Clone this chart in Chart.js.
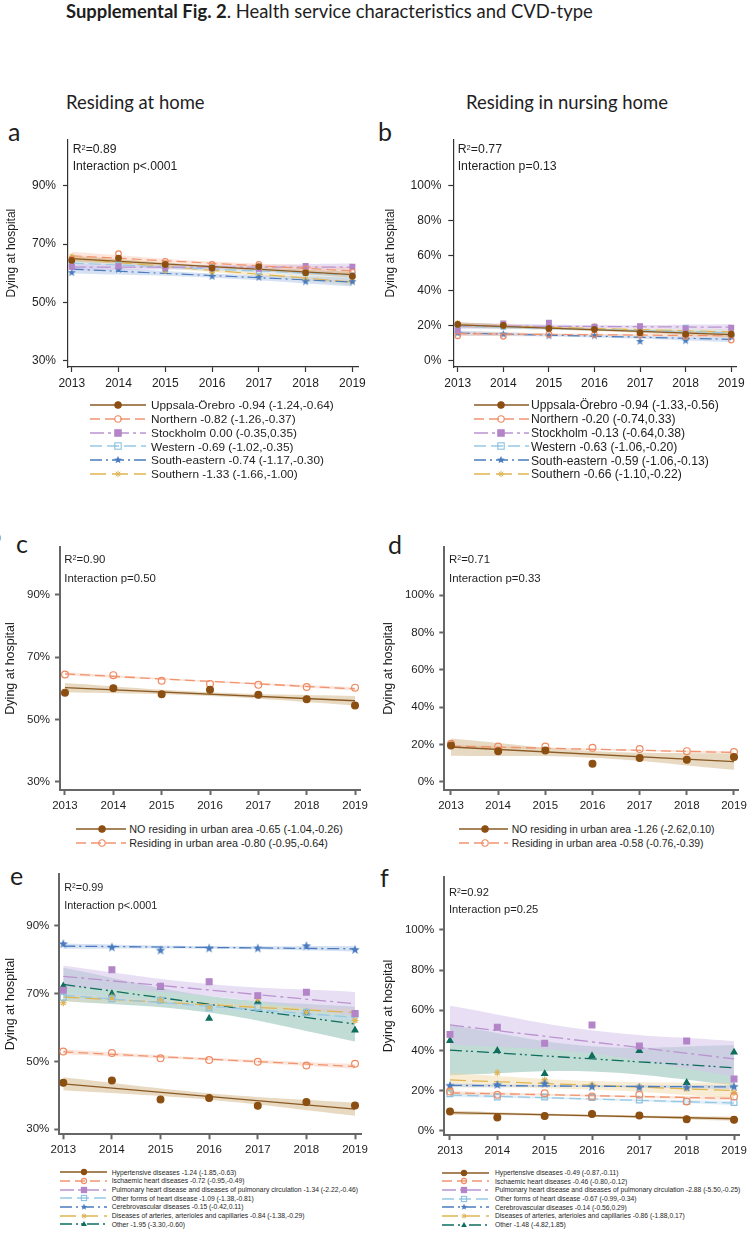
<!DOCTYPE html>
<html>
<head>
<meta charset="utf-8">
<script src="https://cdn.jsdelivr.net/npm/chart.js@4.4.1/dist/chart.umd.min.js"></script>
<style>
  body { margin: 0; width: 750px; height: 1237px; position: relative; background: #fff; overflow: hidden; }
  .abs { position: absolute; white-space: nowrap; }
  canvas { position: absolute; }
</style>
</head>
<body>
<script>
// ---- data ----
const YEARS = [2013, 2014, 2015, 2016, 2017, 2018, 2019];
const FIT_X = [2013, 2019];
const CI_X = [2013, 2016, 2019];

const A_LABELS = ['Uppsala-Örebro -0.94 (-1.24,-0.64)', 'Northern -0.82 (-1.26,-0.37)', 'Stockholm 0.00 (-0.35,0.35)',
  'Western -0.69 (-1.02,-0.35)', 'South-eastern -0.74 (-1.17,-0.30)', 'Southern -1.33 (-1.66,-1.00)'];
const A_OBS = [
  [64.4, 65.2, 63.0, 61.8, 62.3, 60.2, 59.0],
  [64.8, 66.7, 64.1, 63.0, 63.0, 61.5, 60.4],
  [62.2, 62.4, 61.9, 61.6, 61.5, 62.5, 62.2],
  [63.2, 62.9, 62.6, 62.1, 60.6, 60.0, 59.3],
  [60.2, 61.3, 61.5, 58.9, 58.6, 57.1, 57.1],
  [65.8, 63.0, 60.8, 60.2, 58.9, 58.0, 57.4],
];
const A_FIT = [[65.0, 59.5], [66.0, 60.8], [62.1, 62.1], [63.5, 59.4], [61.4, 57.0], [65.0, 57.0]];
const A_LO = [[64.0, 61.8, 58.5], [64.6, 62.8, 59.5], [60.9, 61.4, 60.9], [62.3, 60.9, 58.2], [59.9, 58.5, 55.5], [63.8, 60.4, 55.8]];
const A_HI = [[66.0, 62.7, 60.5], [67.4, 64.0, 62.1], [63.3, 62.8, 63.3], [64.7, 62.0, 60.6], [62.9, 59.9, 58.5], [66.2, 61.6, 58.2]];

const B_LABELS = ['Uppsala-Örebro -0.94 (-1.33,-0.56)', 'Northern -0.20 (-0.74,0.33)', 'Stockholm -0.13 (-0.64,0.38)',
  'Western -0.63 (-1.06,-0.20)', 'South-eastern -0.59 (-1.06,-0.13)', 'Southern -0.66 (-1.10,-0.22)'];
const B_OBS = [
  [20.8, 20.2, 18.5, 18.0, 16.1, 15.2, 15.2],
  [14.3, 14.0, 15.2, 15.0, 14.8, 14.0, 11.9],
  [17.2, 21.3, 21.7, 19.5, 19.8, 18.5, 18.9],
  [20.0, 19.5, 19.0, 19.0, 17.5, 18.9, 15.0],
  [15.9, 15.2, 14.3, 14.3, 11.1, 11.5, 13.7],
  [21.7, 19.5, 19.3, 20.0, 18.0, 15.5, 17.0],
];
const B_FIT = [[20.5, 15.0], [15.5, 14.3], [20.0, 19.2], [19.8, 16.0], [15.9, 12.3], [20.5, 16.5]];
const B_LO = [[19.0, 17.0, 13.5], [14.2, 14.3, 13.0], [18.3, 18.8, 17.5], [18.3, 17.2, 14.5], [14.4, 13.4, 10.8], [19.0, 17.8, 15.0]];
const B_HI = [[22.0, 18.5, 16.5], [16.8, 15.5, 15.6], [21.7, 20.4, 20.9], [21.3, 18.6, 17.5], [17.4, 14.8, 13.8], [22.0, 19.2, 18.0]];

const C_LABELS = ['NO residing in urban area -0.65 (-1.04,-0.26)', 'Residing in urban area -0.80 (-0.95,-0.64)'];
const C_OBS = [[58.6, 60.0, 58.1, 59.5, 57.9, 56.5, 54.5], [64.4, 64.2, 62.4, 61.4, 61.1, 60.4, 60.2]];
const C_FIT = [[60.2, 56.0], [64.6, 59.8]];
const C_LO = [[58.7, 57.5, 54.5], [64.1, 61.95, 59.3]];
const C_HI = [[61.7, 58.7, 57.5], [65.1, 62.45, 60.3]];

const D_LABELS = ['NO residing in urban area -1.26 (-2.62,0.10)', 'Residing in urban area -0.58 (-0.76,-0.39)'];
const D_OBS = [[19.5, 16.5, 16.9, 9.8, 12.8, 11.9, 13.3], [20.4, 19.0, 19.0, 18.3, 17.6, 16.5, 16.0]];
const D_FIT = [[18.7, 10.9], [19.2, 15.8]];
const D_LO = [[14.0, 13.0, 6.5], [18.5, 17.1, 15.1]];
const D_HI = [[23.2, 16.6, 15.2], [19.9, 17.9, 16.5]];

const E_LABELS = ['Hypertensive diseases -1.24 (-1.85,-0.63)', 'Ischaemic heart diseases -0.72 (-0.95,-0.49)',
  'Pulmonary heart disease and diseases of pulmonary circulation -1.34 (-2.22,-0.46)',
  'Other forms of heart disease -1.09 (-1.38,-0.81)', 'Cerebrovascular diseases -0.15 (-0.42,0.11)',
  'Diseases of arteries, arterioles and capillaries -0.84 (-1.38,-0.29)', 'Other -1.95 (-3.30,-0.60)'];
const E_OBS = [
  [43.7, 44.4, 38.8, 39.2, 36.9, 38.0, 37.0],
  [52.9, 52.5, 50.9, 50.4, 49.9, 48.8, 49.3],
  [71.0, 77.0, 72.2, 73.5, 69.4, 70.4, 64.1],
  [68.9, 68.5, 68.0, 65.8, 66.0, 64.5, 63.9],
  [84.6, 83.6, 82.7, 83.3, 83.3, 84.0, 82.9],
  [67.3, 69.0, 68.3, 66.0, 68.5, 64.5, 62.1],
  [72.2, 69.9, 71.9, 62.7, 67.5, 64.3, 59.2],
];
const E_FIT = [[43.4, 35.9], [52.8, 48.5], [75.1, 67.0], [69.5, 63.0], [84.0, 83.2], [69.0, 64.4], [72.7, 61.0]];
const E_LO = [[41.5, 38.7, 34.0], [52.1, 50.25, 47.8], [72.0, 69.3, 63.5], [68.3, 65.6, 61.8], [83.2, 83.2, 82.4], [67.8, 66.1, 63.2], [67.8, 64.4, 55.9]];
const E_HI = [[45.3, 40.6, 37.8], [53.5, 51.05, 49.2], [78.2, 72.8, 70.5], [70.7, 66.9, 64.2], [84.8, 84.0, 84.0], [70.2, 67.3, 65.6], [77.6, 69.3, 66.1]];

const F_LABELS = ['Hypertensive diseases -0.49 (-0.87,-0.11)', 'Ischaemic heart diseases -0.46 (-0.80,-0.12)',
  'Pulmonary heart disease and diseases of pulmonary circulation -2.88 (-5.50,-0.25)',
  'Other forms of heart disease -0.67 (-0.99,-0.34)', 'Cerebrovascular diseases -0.14 (-0.56,0.29)',
  'Diseases of arteries, arterioles and capillaries -0.86 (-1.88,0.17)', 'Other -1.48 (-4.82,1.85)'];
const F_OBS = [
  [9.6, 6.6, 7.4, 8.4, 7.6, 5.8, 5.5],
  [19.5, 17.9, 18.7, 17.1, 17.9, 14.6, 17.1],
  [48.0, 51.6, 43.6, 52.7, 42.2, 44.7, 25.8],
  [18.4, 16.8, 16.8, 16.6, 15.3, 14.6, 14.1],
  [22.4, 22.8, 23.4, 21.9, 21.5, 21.5, 21.9],
  [20.8, 28.9, 25.3, 22.8, 21.9, 21.1, 19.0],
  [44.9, 39.9, 28.4, 37.3, 39.9, 24.0, 39.1],
];
const F_FIT = [[9.0, 6.0], [18.9, 16.1], [52.7, 35.8], [17.8, 13.8], [22.6, 21.8], [25.3, 20.0], [40.2, 31.4]];
const F_LO = [[8.0, 7.0, 5.0], [18.0, 17.0, 15.2], [43.1, 38.5, 27.0], [16.8, 15.3, 12.8], [21.6, 21.7, 20.8], [21.8, 20.5, 16.2], [27.7, 29.5, 22.8]];
const F_HI = [[10.0, 8.0, 7.0], [19.8, 18.0, 17.0], [62.3, 50.0, 44.6], [18.8, 16.3, 14.8], [23.6, 22.7, 22.8], [28.8, 24.8, 23.8], [52.7, 42.1, 42.6]];

const Y_TICKS_HOME = [30, 50, 70, 90];
const Y_TICKS_NURSING = [0, 20, 40, 60, 80, 100];

// ---- styles ----
const SANS = '"Liberation Sans", Arial, sans-serif';
const HEAD = 'Lato, "Open Sans", sans-serif';
const INK = '#1e1e1e';

const STYLE = {
  brown:  { col: '#8c4f12', line: '#8a5a22', band: 'rgba(205,170,120,0.45)', ps: 'circle',   fill: true,  dash: [] },
  orange: { col: '#ef8a62', line: '#f09470', band: 'rgba(248,190,165,0.40)', ps: 'circle',   fill: false, dash: [10, 5] },
  purple: { col: '#b384c8', line: '#bb94cf', band: 'rgba(214,196,236,0.55)', ps: 'rect',     fill: true,  dash: [14, 4, 3, 4] },
  lblue:  { col: '#8cc0de', line: '#98c8e2', band: 'rgba(190,220,240,0.45)', ps: 'rect',     fill: false, dash: [12, 5] },
  blue:   { col: '#4a7bbf', line: '#4a7bbf', band: 'rgba(165,190,228,0.45)', ps: 'star5',    fill: true,  dash: [12, 4, 2, 4] },
  gold:   { col: '#dcb55c', line: '#dfb550', band: 'rgba(240,215,160,0.45)', ps: 'star',     fill: false, dash: [16, 6] },
  teal:   { col: '#0e6d5c', line: '#0e6d5c', band: 'rgba(100,165,150,0.40)', ps: 'triangle', fill: true,  dash: [12, 4, 2, 3, 2, 4] },
};
const SIX = ['brown', 'orange', 'purple', 'lblue', 'blue', 'gold'];
const TWO = ['brown', 'orange'];
const SEVEN = ['brown', 'orange', 'purple', 'lblue', 'blue', 'gold', 'teal'];

// ---- text helpers ----
const mctx = document.createElement('canvas').getContext('2d');
function measure(text, size, family, weight) {
  mctx.font = `${weight || 'normal'} ${size}px ${family}`;
  return mctx.measureText(text);
}
function fitSize(text, family, width, weight) {
  return 100 * width / measure(text, 100, family, weight).width;
}
function put(html, x, baseline, size, family, weight, color) {
  const m = measure('Hg', size, family, weight);
  const asc = m.fontBoundingBoxAscent, desc = m.fontBoundingBoxDescent;
  const el = document.createElement('div');
  el.className = 'abs';
  el.style.cssText += `left:${x}px;top:${baseline - asc}px;font-family:${family};font-size:${size}px;` +
    `font-weight:${weight || 'normal'};line-height:${asc + desc}px;color:${color || INK}`;
  el.innerHTML = html;
  document.body.appendChild(el);
  return el;
}

function starImage(color, r) {
  const c = document.createElement('canvas');
  c.width = c.height = Math.ceil(r * 2 + 2);
  const g = c.getContext('2d');
  g.fillStyle = color;
  g.beginPath();
  for (let i = 0; i < 10; i++) {
    const rr = i % 2 ? r * 0.42 : r;
    const a = -Math.PI / 2 + i * Math.PI / 5;
    g.lineTo(c.width / 2 + rr * Math.cos(a), c.height / 2 + rr * Math.sin(a));
  }
  g.closePath();
  g.fill();
  return c;
}

// ---- chart panel ----
function makePanel(p) {
  const cv = document.createElement('canvas');
  cv.width = p.box[2]; cv.height = p.box[3];
  cv.style.left = p.box[0] + 'px'; cv.style.top = p.box[1] + 'px';
  document.body.appendChild(cv);

  const yW = p.area[0] - p.box[0];
  const padTop = p.area[1] - p.box[1];
  const padRight = p.box[0] + p.box[2] - p.area[2];
  const xH = p.box[1] + p.box[3] - p.area[3];

  const datasets = [];
  p.styles.forEach((k, i) => {
    const s = STYLE[k];
    datasets.push({ data: CI_X.map((x, j) => ({ x, y: p.lo[i][j] })), showLine: true, pointRadius: 0,
      borderWidth: 0, borderColor: 'rgba(0,0,0,0)', tension: 0.4, fill: false, order: 3 });
    datasets.push({ data: CI_X.map((x, j) => ({ x, y: p.hi[i][j] })), showLine: true, pointRadius: 0,
      borderWidth: 0, borderColor: 'rgba(0,0,0,0)', tension: 0.4, fill: '-1', backgroundColor: s.band, order: 3 });
  });
  p.styles.forEach((k, i) => {
    const s = STYLE[k];
    datasets.push({ data: FIT_X.map((x, j) => ({ x, y: p.fit[i][j] })), showLine: true, pointRadius: 0,
      borderColor: s.line, borderWidth: p.lw, borderDash: s.dash, fill: false, order: 2 });
  });
  p.styles.forEach((k, i) => {
    const s = STYLE[k];
    const ps = s.ps === 'star5' ? starImage(s.col, p.mr + 1.5) : s.ps;
    datasets.push({ data: YEARS.map((x, j) => ({ x, y: p.obs[i][j] })), showLine: false,
      pointStyle: ps, pointRadius: s.ps === 'rect' ? p.mr * 1.2 : p.mr,
      pointBackgroundColor: s.fill ? s.col : 'rgba(255,255,255,0)', pointBorderColor: s.col,
      pointBorderWidth: 1.2, order: 1 });
  });

  const axis = { color: p.axisColor, width: p.axisWidth };
  const grid = { drawOnChartArea: false, drawTicks: true, tickLength: 5, tickColor: p.axisColor, tickWidth: p.axisWidth };

  return new Chart(cv, {
    type: 'scatter',
    data: { datasets },
    options: {
      responsive: false, animation: false, events: [],
      layout: { padding: { top: padTop, right: padRight, left: 0, bottom: 0 } },
      plugins: { legend: { display: false }, tooltip: { enabled: false } },
      scales: {
        x: {
          type: 'linear', min: p.xr[0], max: p.xr[1],
          afterBuildTicks: s => { s.ticks = YEARS.map(v => ({ value: v })); },
          afterFit: s => { s.height = xH; },
          grid, border: axis,
          ticks: { color: INK, font: { family: SANS, size: p.xFont }, padding: p.xPad, autoSkip: false, maxRotation: 0,
            callback: v => String(v) },
        },
        y: {
          type: 'linear', min: p.yr[0], max: p.yr[1],
          afterBuildTicks: s => { s.ticks = p.yTicks.map(v => ({ value: v })); },
          afterFit: s => { s.width = yW; },
          grid, border: axis,
          ticks: { color: INK, font: { family: SANS, size: p.yFont }, padding: p.yPad, callback: v => v + '%' },
          title: { display: true, text: 'Dying at hospital', color: INK, font: { family: SANS, size: p.titleFont },
            padding: { top: p.titlePad, bottom: 0 } },
        },
      },
    },
  });
}

// ---- legend (line sample + marker + label) ----
function svgMarker(k, cx, cy, r) {
  const s = STYLE[k];
  const f = s.fill ? s.col : 'none';
  if (s.ps === 'circle') return `<circle cx="${cx}" cy="${cy}" r="${r}" fill="${f}" stroke="${s.col}" stroke-width="1.1"/>`;
  if (s.ps === 'rect') return `<rect x="${cx - r}" y="${cy - r}" width="${2 * r}" height="${2 * r}" fill="${f}" stroke="${s.col}" stroke-width="1.1"/>`;
  if (s.ps === 'triangle') return `<polygon points="${cx},${cy - r * 1.15} ${cx + r * 1.1},${cy + r * 0.8} ${cx - r * 1.1},${cy + r * 0.8}" fill="${s.col}"/>`;
  if (s.ps === 'star5') {
    const pts = [];
    for (let i = 0; i < 10; i++) {
      const rr = i % 2 ? r * 0.55 : r * 1.3;
      const a = -Math.PI / 2 + i * Math.PI / 5;
      pts.push((cx + rr * Math.cos(a)).toFixed(2) + ',' + (cy + rr * Math.sin(a)).toFixed(2));
    }
    return `<polygon points="${pts.join(' ')}" fill="${s.col}"/>`;
  }
  let out = '';
  for (let i = 0; i < 4; i++) {
    const a = i * Math.PI / 4;
    out += `<line x1="${cx - r * Math.cos(a)}" y1="${cy - r * Math.sin(a)}" x2="${cx + r * Math.cos(a)}" y2="${cy + r * Math.sin(a)}" stroke="${s.col}" stroke-width="1"/>`;
  }
  return out;
}

function makeLegend(g) {
  const longest = g.labels.reduce((a, b) => (measure(b, 10, SANS).width > measure(a, 10, SANS).width ? b : a));
  const size = fitSize(longest, SANS, g.textW);
  g.labels.forEach((lab, i) => {
    const k = g.styles[i];
    const s = STYLE[k];
    const cy = g.top + i * g.step;
    const h = 12;
    const svg = document.createElement('div');
    svg.className = 'abs';
    svg.style.left = g.x + 'px';
    svg.style.top = (cy - h / 2) + 'px';
    svg.innerHTML = `<svg width="${g.w}" height="${h}" style="display:block">` +
      `<line x1="0" y1="${h / 2}" x2="${g.w}" y2="${h / 2}" stroke="${s.line}" stroke-width="1.3" stroke-dasharray="${s.dash.join(' ')}"/>` +
      svgMarker(k, g.mx - g.x, h / 2, g.mr) + '</svg>';
    document.body.appendChild(svg);
    put(lab, g.tx, cy + size * 0.36, size, SANS);
  });
}

function annotate(x, y1, y2, r2, inter, width) {
  const size = fitSize(inter, SANS, width);
  put(`R<span style="position:relative;top:-0.42em;font-size:0.62em">2</span>=${r2}`, x, y1 + size * 0.36, size, SANS);
  put(inter, x, y2 + size * 0.36, size, SANS);
}

// ---- headings ----
const titleB = 'Supplemental Fig. 2', titleR = '. Health service characteristics and CVD-type';
const tSize = 100 * 527 / (measure(titleB, 100, HEAD, 'bold').width + measure(titleR, 100, HEAD).width);
put(`<b>${titleB}</b>${titleR}`, 66, 18, tSize, HEAD);
const hSize = fitSize('Residing in nursing home', HEAD, 202);
put('Residing at home', 66, 109, hSize, HEAD);
put('Residing in nursing home', 466, 109, hSize, HEAD);
[['a', 8, 141], ['b', 378, 141], ['c', 16, 553], ['d', 388, 554], ['e', 10, 885], ['f', 380, 887]]
  .forEach(([t, x, y]) => put(t, x, y, 25, HEAD));
put('9', -5, 542, 11, SANS, 'normal', '#777');

// ---- panels ----
const THIN = { axisColor: '#333', axisWidth: 1.2, lw: 1.2, mr: 2.8, xFont: 12, yFont: 12, titleFont: 12, xPad: 4, yPad: 7 };
const THICK = { axisColor: '#666', axisWidth: 2, lw: 1.3, mr: 3.4, xFont: 11.5, yFont: 11.5, titleFont: 12.5, xPad: 4, yPad: 5 };

makePanel({ ...THIN, box: [0, 125, 375, 280], area: [68, 133, 358, 367], xr: [2012.92, 2019.12], yr: [27.9, 105.9],
  yTicks: Y_TICKS_HOME, styles: SIX, obs: A_OBS, fit: A_FIT, lo: A_LO, hi: A_HI, titlePad: 4 });
makePanel({ ...THIN, box: [375, 125, 380, 280], area: [453.3, 133, 736.5, 367], xr: [2012.903, 2019.116], yr: [-3.5, 126.5],
  yTicks: Y_TICKS_NURSING, styles: SIX, obs: B_OBS, fit: B_FIT, lo: B_LO, hi: B_HI, titlePad: 8 });
makePanel({ ...THICK, box: [0, 535, 375, 285], area: [60, 543.3, 360, 790], xr: [2012.897, 2019.103], yr: [27.4, 105.3],
  yTicks: Y_TICKS_HOME, styles: TWO, obs: C_OBS, fit: C_FIT, lo: C_LO, hi: C_HI, titlePad: 3 });
makePanel({ ...THICK, box: [375, 535, 380, 285], area: [444.3, 543.3, 738, 790], xr: [2012.858, 2019.085], yr: [-4.3, 125.8],
  yTicks: Y_TICKS_NURSING, styles: TWO, obs: D_OBS, fit: D_FIT, lo: D_LO, hi: D_HI, titlePad: 6 });
makePanel({ ...THICK, box: [0, 862, 375, 300], area: [59.3, 871.7, 361, 1134.3], xr: [2012.918, 2019.123], yr: [28.5, 105.3],
  yTicks: Y_TICKS_HOME, styles: SEVEN, obs: E_OBS, fit: E_FIT, lo: E_LO, hi: E_HI, titlePad: 3 });
makePanel({ ...THICK, box: [375, 865, 380, 297], area: [444.3, 876.7, 739, 1135], xr: [2012.88, 2019.105], yr: [-2.1, 126.4],
  yTicks: Y_TICKS_NURSING, styles: SEVEN, obs: F_OBS, fit: F_FIT, lo: F_LO, hi: F_HI, titlePad: 6 });

// ---- annotations ----
annotate(72.7, 149, 165.7, '0.89', 'Interaction p<.0001', 104.7);
annotate(457.7, 149, 165.7, '0.77', 'Interaction p=0.13', 99);
annotate(64.3, 559, 578.3, '0.90', 'Interaction p=0.50', 91.7);
annotate(449, 559, 578.3, '0.71', 'Interaction p=0.33', 91.7);
annotate(64.3, 887.3, 905, '0.99', 'Interaction p<.0001', 93);
annotate(449, 891.7, 909.3, '0.92', 'Interaction p=0.25', 89.3);

// ---- legends ----
makeLegend({ labels: A_LABELS, styles: SIX, x: 90, w: 56, mx: 118, mr: 3.2, tx: 151, textW: 183, top: 405, step: 13.8 });
makeLegend({ labels: B_LABELS, styles: SIX, x: 474, w: 55, mx: 501, mr: 3.2, tx: 531, textW: 188, top: 405, step: 13.8 });
makeLegend({ labels: C_LABELS, styles: TWO, x: 76, w: 50, mx: 102, mr: 3.2, tx: 129.3, textW: 214, top: 829.3, step: 14 });
makeLegend({ labels: D_LABELS, styles: TWO, x: 459, w: 49, mx: 485, mr: 3.2, tx: 511.7, textW: 203, top: 829.3, step: 14 });
makeLegend({ labels: E_LABELS, styles: SEVEN, x: 60, w: 47, mx: 84, mr: 2.6, tx: 111.7, textW: 246.6, top: 1172.3, step: 8.67 });
makeLegend({ labels: F_LABELS, styles: SEVEN, x: 442, w: 47, mx: 464, mr: 2.6, tx: 495, textW: 245.7, top: 1172.7, step: 8.67 });
</script>
</body>
</html>
